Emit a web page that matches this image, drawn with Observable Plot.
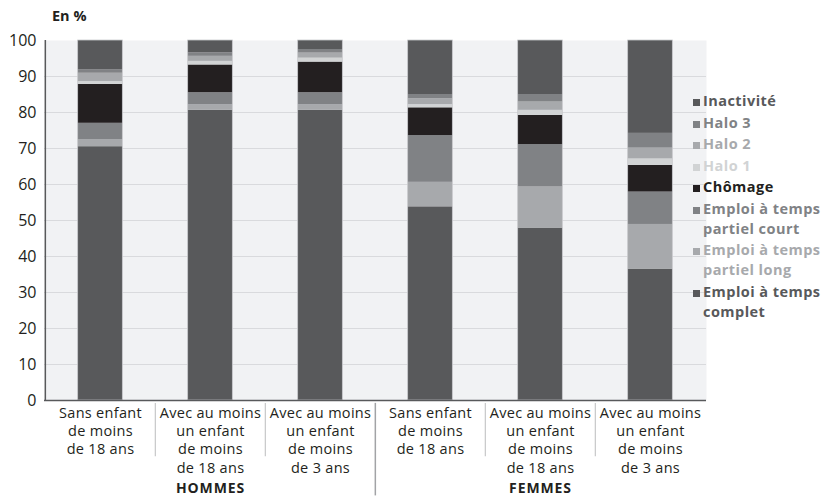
<!DOCTYPE html>
<html>
<head>
<meta charset="utf-8">
<script src="https://cdn.jsdelivr.net/npm/d3@7"></script>
<script src="https://cdn.jsdelivr.net/npm/@observablehq/plot@0.6"></script>
<style>
  body { margin: 0; background: #fff; font-family: "Open Sans", sans-serif; }
  #wrap { position: relative; width: 835px; height: 498px; }
  #title { position: absolute; left: 52px; top: 6px; font-size: 14.5px; font-weight: 700; color: #231f20; }
  #legend { position: absolute; left: 693px; top: 91px; font-size: 14.5px; font-weight: 700; letter-spacing: 0.45px; }
  .item { line-height: 20px; margin-bottom: 1.5px; white-space: nowrap; }
  .sw { display: inline-block; width: 7px; height: 7px; margin-right: 3px; vertical-align: 0px; }
  .item .l2 { display: block; padding-left: 10px; }
</style>
</head>
<body>
<div id="wrap">
  <div id="chart"></div>
  <div id="title">En %</div>
  <div id="legend"></div>
</div>
<script>
// ---- data ----
const categories = ["H1", "H2", "H3", "F1", "F2", "F3"];
const catLabels = [
  "Sans enfant\nde moins\nde 18 ans",
  "Avec au moins\nun enfant\nde moins\nde 18 ans",
  "Avec au moins\nun enfant\nde moins\nde 3 ans",
  "Sans enfant\nde moins\nde 18 ans",
  "Avec au moins\nun enfant\nde moins\nde 18 ans",
  "Avec au moins\nun enfant\nde moins\nde 3 ans"
];
const groupNames = ["HOMMES", "FEMMES"];
const groupCenters = ["H2", "F2"];
const groupSeparators = ["F1"];
const catSeparators = ["H2", "H3", "F2", "F3"];

const series = [
  "Emploi à temps complet",
  "Emploi à temps partiel long",
  "Emploi à temps partiel court",
  "Chômage",
  "Halo 1",
  "Halo 2",
  "Halo 3",
  "Inactivité"
];
const legendLabels = [
  ["Emploi à temps", "complet"],
  ["Emploi à temps", "partiel long"],
  ["Emploi à temps", "partiel court"],
  ["Chômage"],
  ["Halo 1"],
  ["Halo 2"],
  ["Halo 3"],
  ["Inactivité"]
];
const colors = ["#58595b", "#a7a9ac", "#808285", "#231f20", "#d1d3d4", "#a7a9ac", "#808285", "#58595b"];

const emploiComplet = [70.5, 80.6, 80.6, 53.8, 47.9, 36.4];
const partielLong   = [2.0, 1.6, 1.6, 6.8, 11.4, 12.5];
const partielCourt  = [4.5, 3.3, 3.3, 13.0, 11.8, 9.0];
const chomage       = [10.8, 7.7, 8.5, 7.7, 8.1, 7.4];
const halo1         = [0.8, 1.0, 1.1, 0.9, 1.4, 1.8];
const halo2         = [2.3, 1.4, 1.4, 1.6, 2.3, 3.0];
const halo3         = [1.0, 1.0, 1.0, 1.2, 2.1, 4.1];
const inactivite    = [8.1, 3.4, 2.5, 15.0, 15.0, 25.8];
const yTicks = [0, 10, 20, 30, 40, 50, 60, 70, 80, 90, 100];

// ---- build table ----
const seriesValues = [emploiComplet, partielLong, partielCourt, chomage, halo1, halo2, halo3, inactivite];
const data = [];
series.forEach((s, si) => categories.forEach((c, ci) => data.push({cat: c, series: s, value: seriesValues[si][ci]})));

const W = 835, H = 498, ML = 44, MR = 129, MT = 40, MB = 98;
const bandwidth = (W - ML - MR) / categories.length;
const inset = bandwidth * 0.296;
const font = "Open Sans, sans-serif";

const chart = Plot.plot({
  width: W, height: H,
  marginLeft: ML, marginRight: MR, marginTop: MT, marginBottom: MB,
  style: {fontFamily: font, background: "transparent", overflow: "visible"},
  x: {domain: categories, padding: 0, axis: null},
  y: {domain: [0, 100], axis: null},
  color: {domain: series, range: colors},
  marks: [
    Plot.frame({fill: "#f1f2f4", stroke: null}),
    Plot.gridY(yTicks.filter(d => d > 0 && d < 100), {stroke: "#d9dadd", strokeOpacity: 1, strokeWidth: 1}),
    Plot.barY(data, Plot.stackY({
      x: "cat", y: "value", fill: "series", order: series,
      insetLeft: inset, insetRight: inset
    })),
    Plot.barY(categories, {x: d => d, y1: 0, y2: 100, fill: "none", stroke: "#c9cacd", strokeWidth: 0.8,
      insetLeft: inset, insetRight: inset}),
    Plot.axisY(yTicks, {tickSize: 0, tickPadding: 8, fontSize: 16, fill: "#231f20", label: null}),
    Plot.ruleX([0], {x: () => categories[0], y1: 0, y2: 100, dx: -bandwidth / 2, stroke: "#58595b", strokeWidth: 1.5}),
    Plot.ruleY([0], {stroke: "#58595b", strokeWidth: 1.5}),
    Plot.axisX({tickSize: 0, tickPadding: 4, fontSize: 14.5, fill: "#231f20", lineHeight: 1.27,
      tickFormat: c => catLabels[categories.indexOf(c)], label: null}),
    Plot.ruleX(catSeparators, {x: d => d, dx: -bandwidth / 2, y1: -0.8, y2: -15.6, stroke: "#c6c7c9", strokeWidth: 1.2}),
    Plot.ruleX(groupSeparators, {x: d => d, dx: -bandwidth / 2, y1: -0.8, y2: -26.5, stroke: "#a2a3a6", strokeWidth: 1.5}),
    Plot.text(groupCenters, {x: d => d, y: 0, text: (d, i) => groupNames[i], dy: 88.5, fontSize: 14, fontWeight: 700,
      fill: "#231f20"})
  ]
});
chart.querySelectorAll("text").forEach(t => { if (groupNames.includes(t.textContent)) t.style.letterSpacing = "0.9px"; });
chart.querySelectorAll("text tspan").forEach(t => { t.style.letterSpacing = "0.3px"; });
document.getElementById("chart").appendChild(chart);

// ---- legend (top to bottom: reverse of stack order) ----
const legend = document.getElementById("legend");
for (let i = series.length - 1; i >= 0; i--) {
  const div = document.createElement("div");
  div.className = "item";
  div.style.color = colors[i];
  const sw = document.createElement("span");
  sw.className = "sw";
  sw.style.background = colors[i];
  div.appendChild(sw);
  div.appendChild(document.createTextNode(legendLabels[i][0]));
  if (legendLabels[i][1]) {
    const l2 = document.createElement("span");
    l2.className = "l2";
    l2.textContent = legendLabels[i][1];
    div.appendChild(l2);
  }
  legend.appendChild(div);
}
</script>
</body>
</html>
